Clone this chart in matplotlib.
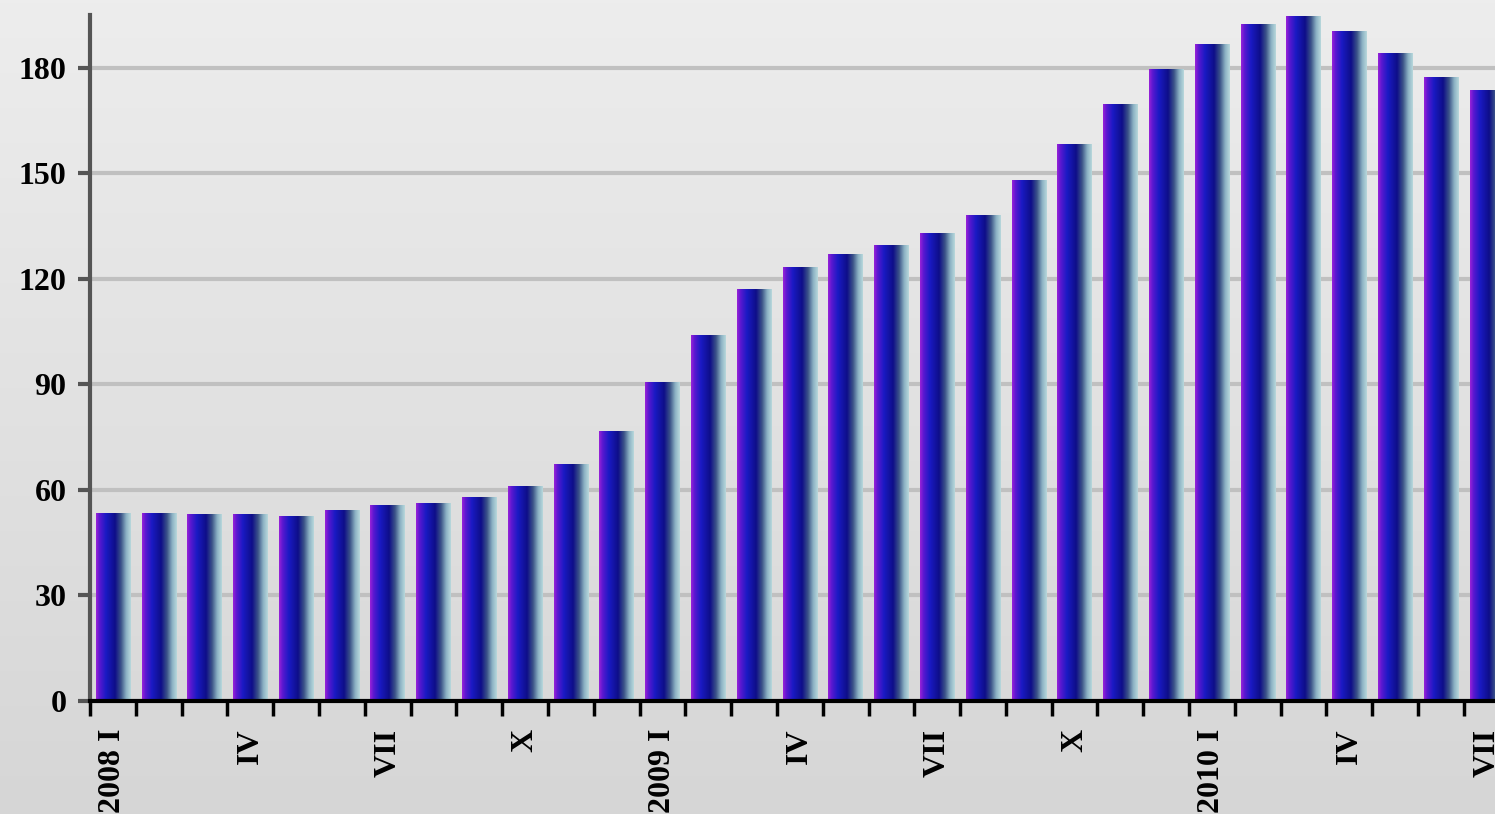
import numpy as np
import matplotlib
matplotlib.use("Agg")
import matplotlib.pyplot as plt
from matplotlib.colors import LinearSegmentedColormap

# monthly values, 2008 I .. 2010 VII
months = ["I", "II", "III", "IV", "V", "VI", "VII", "VIII", "IX", "X", "XI", "XII"] * 2 + \
         ["I", "II", "III", "IV", "V", "VI", "VII"]
values = [53.4, 53.4, 53.1, 53.1, 52.5, 54.2, 55.6, 56.2, 57.9, 61.0, 67.3, 76.7,
          90.6, 103.9, 117.0, 123.2, 126.9, 129.5, 132.9, 138.0, 147.9, 158.1, 169.5, 179.4,
          186.5, 192.2, 194.5, 190.2, 184.0, 177.2, 173.5]
label_pos = [0, 3, 6, 9, 12, 15, 18, 21, 24, 27, 30]
label_txt = ["2008 I", "IV", "VII", "X", "2009 I", "IV", "VII", "X", "2010 I", "IV", "VII"]
yticks = [0, 30, 60, 90, 120, 150, 180]

plt.rcParams['font.family'] = ['Liberation Serif', 'DejaVu Serif']

fig = plt.figure(figsize=(14.95, 8.14), dpi=100)

# background gradient over whole figure
bg = fig.add_axes([0, 0, 1, 1], zorder=-5)
bg_cmap = LinearSegmentedColormap.from_list("bg", ["#d6d6d6", "#ededed"])
bg.imshow(np.linspace(0, 1, 256).reshape(-1, 1), aspect="auto", cmap=bg_cmap,
          origin="lower", extent=[0, 1, 0, 1])
bg.set_axis_off()

ax = fig.add_axes([0.0602, 0.1388, 0.9398, 0.8428])
ax.patch.set_alpha(0)

bar_cmap = LinearSegmentedColormap.from_list("bar", [
    (0.0, "#9a22d8"), (0.1, "#5a18d0"), (0.28, "#1a1ac4"), (0.55, "#0e0e88"),
    (0.72, "#3c5488"), (0.87, "#8cb2c4"), (1.0, "#b8d8dc")])
grad = np.linspace(0, 1, 128).reshape(1, -1)

x = np.arange(len(values))
bars = ax.bar(x, values, width=0.75, color="none", edgecolor="none", zorder=2)
for b in bars:
    x0, w, h = b.get_x(), b.get_width(), b.get_height()
    ax.imshow(grad, aspect="auto", cmap=bar_cmap, extent=[x0, x0 + w, 0, h],
              zorder=2, interpolation="bilinear")

ax.set_yticks(yticks)
ax.set_yticklabels([str(v) for v in yticks], fontsize=23, fontweight="bold")
ax.grid(axis="y", color="#c0c0c0", linewidth=3, zorder=0)
ax.set_axisbelow(True)

ax.set_xticks(np.arange(-0.5, 30.6, 1.0))
ax.set_xticklabels([])
ax.set_xticks(label_pos, minor=True)
ax.set_xticklabels(label_txt, minor=True, rotation=90, fontsize=23,
                   fontweight="bold", va="top", ha="center")
ax.tick_params(axis="x", which="major", direction="out", length=11, width=2.5,
               color="black")
ax.tick_params(axis="x", which="minor", length=0, pad=20)
ax.tick_params(axis="y", direction="out", length=9, width=3, color="#555555", pad=8)

# limits after ticks, otherwise set_xticks widens the view
ax.set_xlim(-0.5, 30.18)
ax.set_ylim(0, 195)

for s in ["top", "right"]:
    ax.spines[s].set_visible(False)
ax.spines["left"].set_color("#555555")
ax.spines["left"].set_linewidth(3)
ax.spines["bottom"].set_color("black")
ax.spines["bottom"].set_linewidth(3)

fig.savefig("out.png", dpi=100)
